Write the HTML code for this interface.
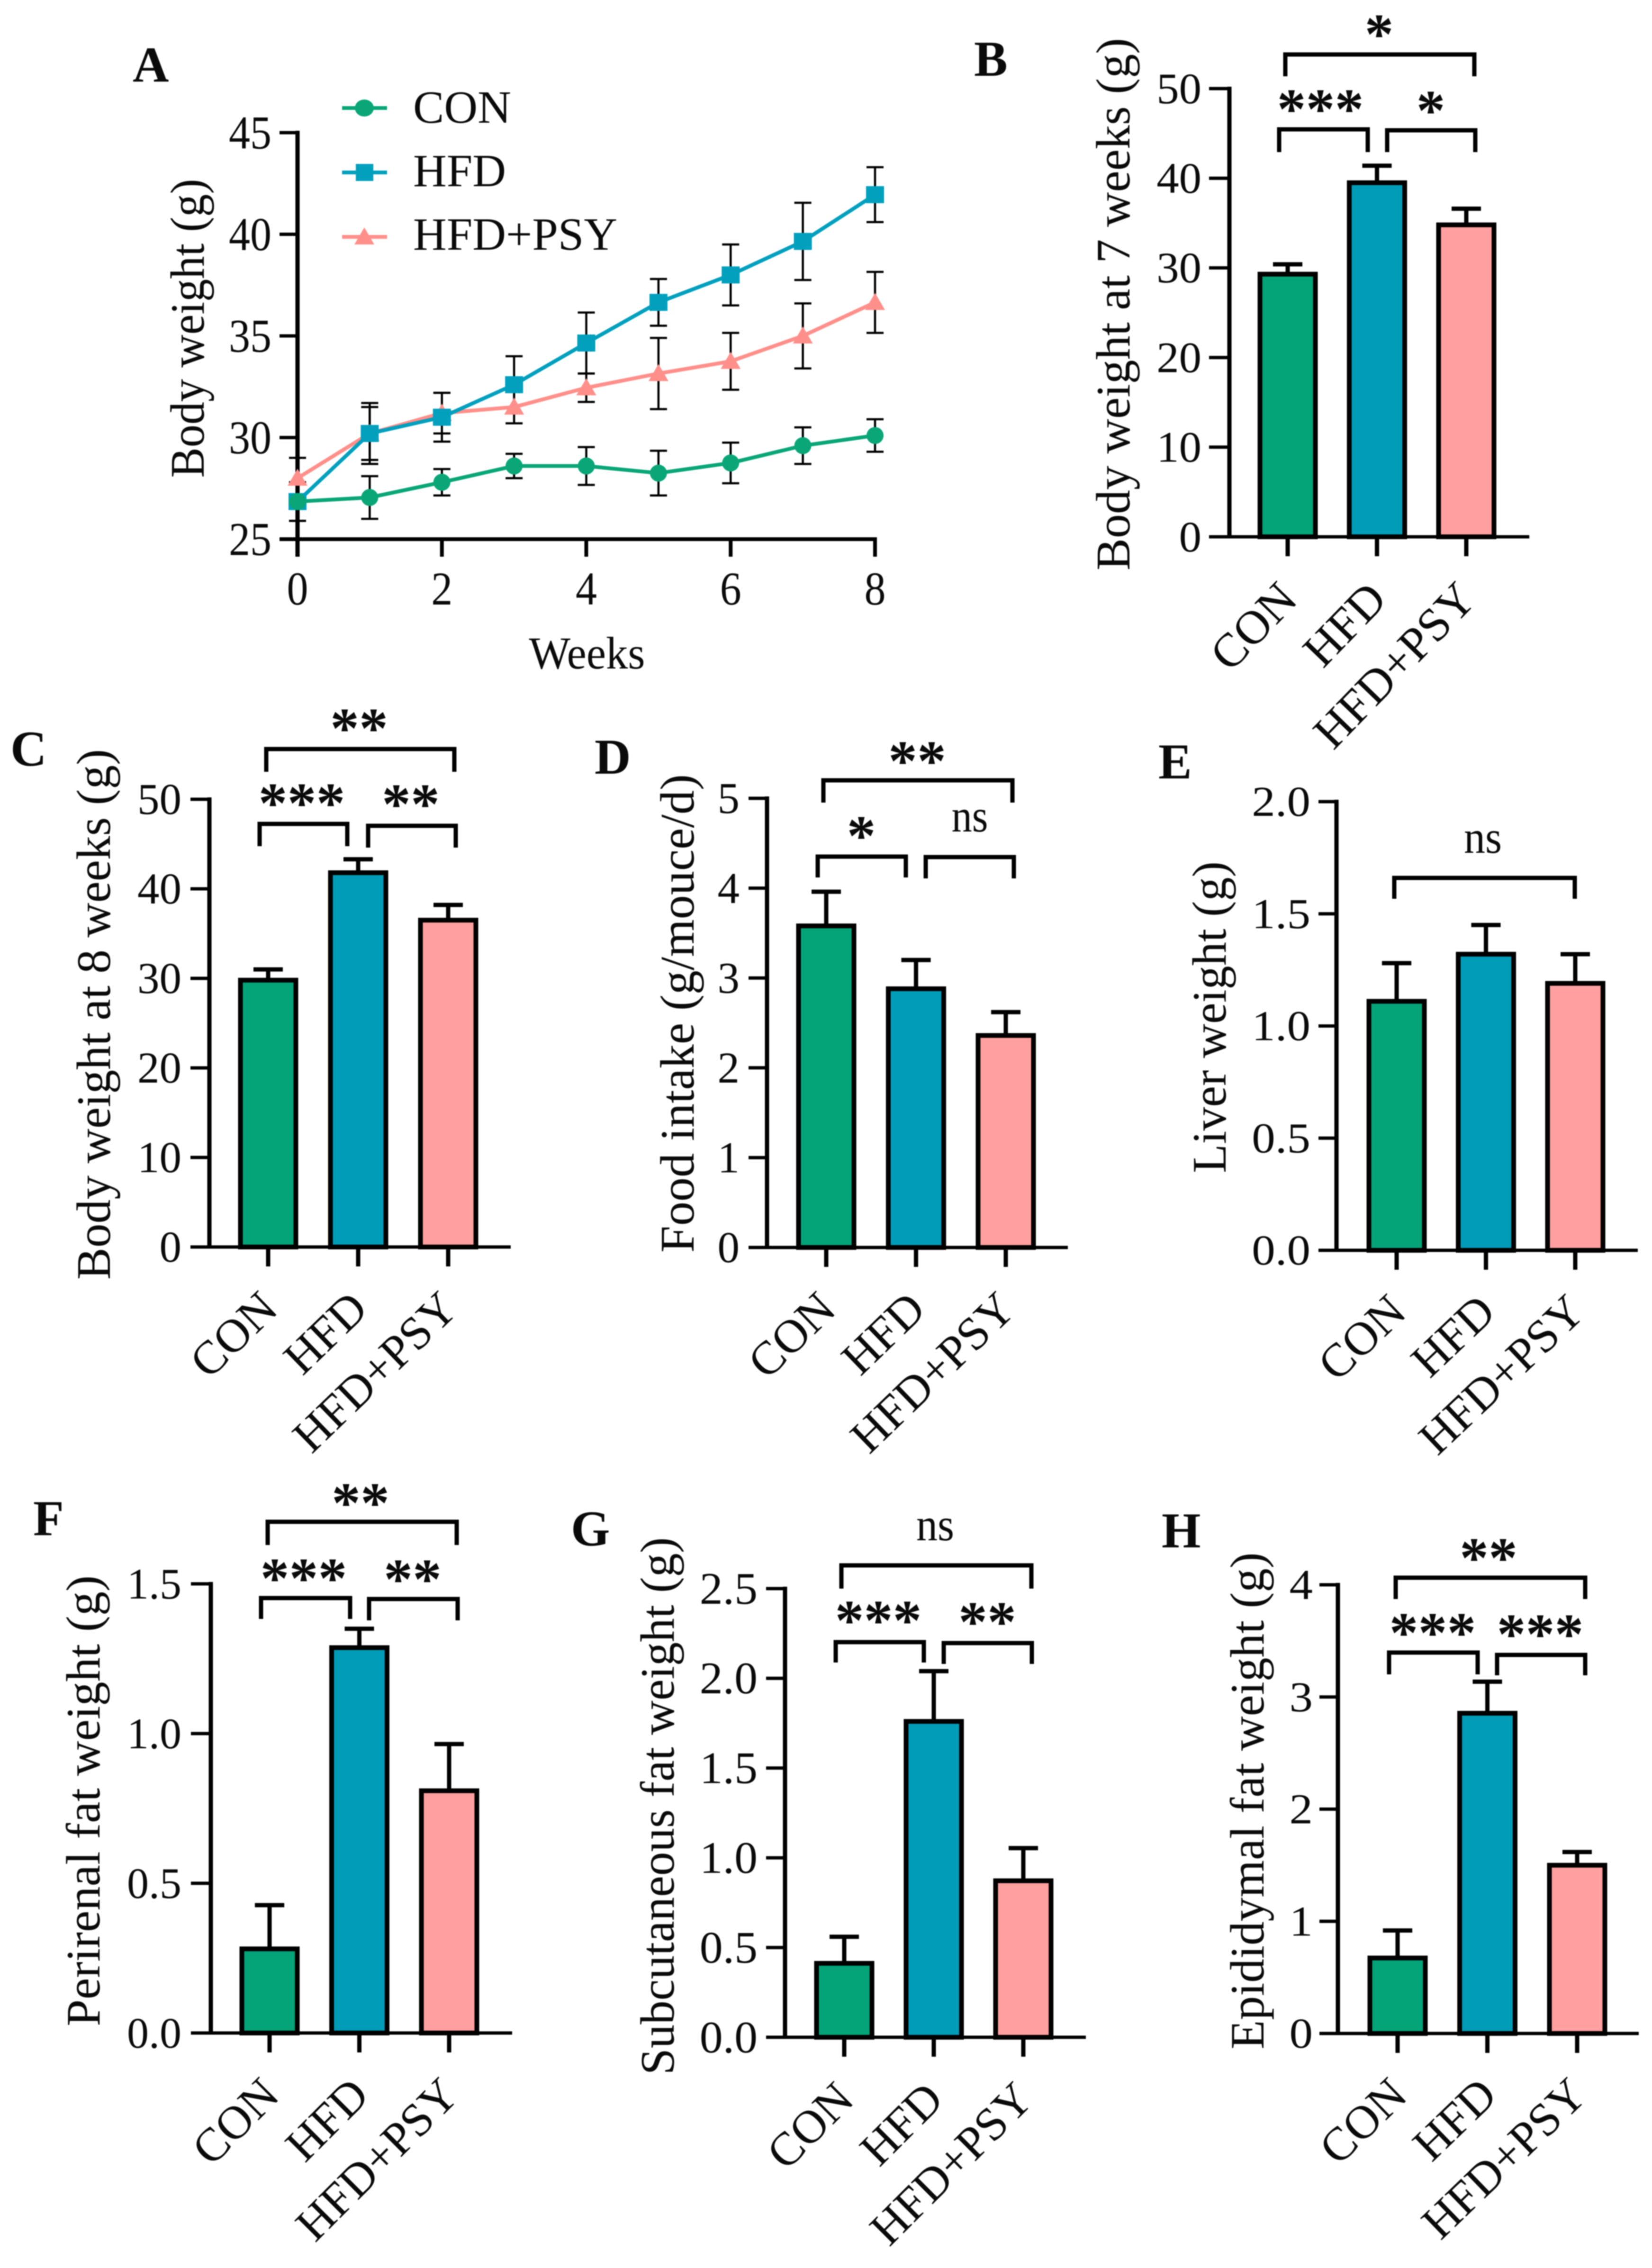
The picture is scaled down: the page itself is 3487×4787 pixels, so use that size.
<!DOCTYPE html>
<html lang="en">
<head>
<meta charset="utf-8">
<title>Body weight and fat weight panels</title>
<style>
html,body{margin:0;padding:0;background:#fff;}
svg{display:block;filter:blur(1px);}
text{font-family:"Liberation Serif","Times New Roman",serif;fill:#0a0a0a;}
.pl{font-weight:bold;font-size:106px;}
.yt{font-size:102px;}
.st{font-weight:bold;font-size:122px;text-anchor:middle;}
.ns{font-size:98px;text-anchor:middle;}
.br{fill:none;stroke:#000;stroke-width:9;}
.lg{font-size:98px;}
</style>
</head>
<body>
<svg id="figure" xmlns="http://www.w3.org/2000/svg" width="3487" height="4787" viewBox="0 0 3487 4787">
<rect x="0" y="0" width="3487" height="4787" fill="#fff"/>

<g id="panel-a">
<text class="pl" x="280" y="172">A</text>
<text class="yt" transform="translate(430,693) rotate(-90)" text-anchor="middle" textLength="631" lengthAdjust="spacingAndGlyphs">Body weight (g)</text>
<text x="1239" y="1411" font-size="96" text-anchor="middle" textLength="245" lengthAdjust="spacingAndGlyphs">Weeks</text>
<g>
<line x1="722" y1="228" x2="817" y2="228" stroke="#0aa678" stroke-width="8"/>
<ellipse cx="769" cy="228" rx="20" ry="18" fill="#0aa678"/>
<text class="lg" x="872" y="259">CON</text>
<line x1="722" y1="364" x2="817" y2="364" stroke="#03a0be" stroke-width="8"/>
<rect x="751" y="346" width="37" height="36" fill="#03a0be"/>
<text class="lg" x="872" y="393">HFD</text>
<line x1="722" y1="500" x2="817" y2="500" stroke="#ff8f8a" stroke-width="8"/>
<polygon points="769,480 790,516 748,516" fill="#ff8f8a"/>
<text class="lg" x="872" y="527">HFD+PSY</text>
</g>
</g>

<g id="panel-b">
<text class="pl" x="2056" y="160">B</text>
<text class="yt" transform="translate(2384,642) rotate(-90)" text-anchor="middle" textLength="1124" lengthAdjust="spacingAndGlyphs">Body weight at 7 weeks (g)</text>
<path class="br" d="M2713,161 V115 H3112 V161"/>
<path class="br" d="M2700,321 V273 H2887 V321"/>
<path class="br" d="M2928,321 V275 H3114 V321"/>
<text class="st" x="2911" y="113">*</text>
<text class="st" x="2787" y="271">***</text>
<text class="st" x="3020" y="274">*</text>
</g>

<g id="panel-c">
<text class="pl" x="22" y="1616">C</text>
<text class="yt" transform="translate(232,2141) rotate(-90)" text-anchor="middle" textLength="1120" lengthAdjust="spacingAndGlyphs">Body weight at 8 weeks (g)</text>
<path class="br" d="M562,1629 V1581 H959 V1629"/>
<path class="br" d="M548,1786 V1739 H733 V1786"/>
<path class="br" d="M777,1789 V1743 H962 V1789"/>
<text class="st" x="758" y="1578">**</text>
<text class="st" x="637" y="1736">***</text>
<text class="st" x="867" y="1738">**</text>
</g>

<g id="panel-d">
<text class="pl" x="1255" y="1633">D</text>
<text class="yt" transform="translate(1464,2139) rotate(-90)" text-anchor="middle" textLength="1010" lengthAdjust="spacingAndGlyphs">Food intake (g/mouce/d)</text>
<path class="br" d="M1738,1694 V1647 H2137 V1694"/>
<path class="br" d="M1726,1852 V1808 H1912 V1852"/>
<path class="br" d="M1954,1854 V1809 H2140 V1854"/>
<text class="st" x="1936" y="1647">**</text>
<text class="st" x="1818" y="1805">*</text>
<text class="ns" x="2047" y="1755" textLength="77" lengthAdjust="spacingAndGlyphs">ns</text>
</g>

<g id="panel-e">
<text class="pl" x="2445" y="1643">E</text>
<text class="yt" transform="translate(2587,2147) rotate(-90)" text-anchor="middle" textLength="658" lengthAdjust="spacingAndGlyphs">Liver weight (g)</text>
<path class="br" d="M2943,1897 V1853 H3324 V1897"/>
<text class="ns" x="3130" y="1800" textLength="80" lengthAdjust="spacingAndGlyphs">ns</text>
</g>

<g id="panel-f">
<text class="pl" x="70" y="3240">F</text>
<text class="yt" transform="translate(210,3801) rotate(-90)" text-anchor="middle" textLength="952" lengthAdjust="spacingAndGlyphs">Perirenal fat weight (g)</text>
<path class="br" d="M565,3261 V3212 H964 V3261"/>
<path class="br" d="M551,3417 V3373 H739 V3417"/>
<path class="br" d="M779,3420 V3375 H966 V3420"/>
<text class="st" x="761" y="3213">**</text>
<text class="st" x="641" y="3372">***</text>
<text class="st" x="871" y="3374">**</text>
</g>

<g id="panel-g">
<text class="pl" x="1205" y="3262">G</text>
<text class="yt" transform="translate(1422,3812) rotate(-90)" text-anchor="middle" textLength="1135" lengthAdjust="spacingAndGlyphs">Subcutaneous fat weight (g)</text>
<path class="br" d="M1776,3353 V3304 H2177 V3353"/>
<path class="br" d="M1764,3509 V3466 H1950 V3509"/>
<path class="br" d="M1992,3512 V3468 H2178 V3512"/>
<text class="ns" x="1974" y="3251" textLength="80" lengthAdjust="spacingAndGlyphs">ns</text>
<text class="st" x="1854" y="3461">***</text>
<text class="st" x="2084" y="3464">**</text>
</g>

<g id="panel-h">
<text class="pl" x="2452" y="3266">H</text>
<text class="yt" transform="translate(2667,3801) rotate(-90)" text-anchor="middle" textLength="1049" lengthAdjust="spacingAndGlyphs">Epididymal fat weight (g)</text>
<path class="br" d="M2946,3375 V3330 H3346 V3375"/>
<path class="br" d="M2932,3534 V3488 H3119 V3534"/>
<path class="br" d="M3160,3536 V3493 H3346 V3536"/>
<text class="st" x="3142" y="3329">**</text>
<text class="st" x="3024" y="3487">***</text>
<text class="st" x="3251" y="3490">***</text>
</g>
</svg>

<script>
// ---- shared categories ----
const categories = ['CON', 'HFD', 'HFD+PSY'];

// ---- panel A data ----
const weeks = [0, 1, 2, 3, 4, 5, 6, 7, 8];
const weekTickLabels = ['0', '2', '4', '6', '8'];
const weightTickLabels = ['25', '30', '35', '40', '45'];
const conWeight = [26.85, 27.05, 27.8, 28.6, 28.6, 28.25, 28.75, 29.6, 30.1];
const conWeightError = [0.95, 1.05, 0.65, 0.6, 0.93, 1.1, 1.0, 0.9, 0.8];
const hfdWeight = [26.85, 30.2, 31.0, 32.6, 34.65, 36.65, 38.0, 39.65, 41.95];
const hfdWeightError = [0.95, 1.3, 1.2, 1.4, 1.5, 1.15, 1.5, 1.9, 1.35];
const psyWeight = [28.0, 30.2, 31.2, 31.5, 32.45, 33.15, 33.75, 35.0, 36.65];
const psyWeightError = [1.0, 1.5, 1.0, 0.8, 0.7, 1.75, 1.4, 1.6, 1.5];

// ---- bar panel data ----
const bValues = [29.3, 39.5, 34.8];
const bErrors = [1.1, 1.9, 1.8];
const bTickLabels = ['0', '10', '20', '30', '40', '50'];
const cValues = [29.8, 41.8, 36.5];
const cErrors = [1.2, 1.5, 1.7];
const cTickLabels = ['0', '10', '20', '30', '40', '50'];
const dValues = [3.58, 2.88, 2.36];
const dErrors = [0.38, 0.32, 0.26];
const dTickLabels = ['0', '1', '2', '3', '4', '5'];
const eValues = [1.11, 1.32, 1.19];
const eErrors = [0.17, 0.13, 0.13];
const eTickLabels = ['0.0', '0.5', '1.0', '1.5', '2.0'];
const fValues = [0.281, 1.287, 0.809];
const fErrors = [0.146, 0.063, 0.156];
const fTickLabels = ['0.0', '0.5', '1.0', '1.5'];
const gValues = [0.412, 1.76, 0.872];
const gErrors = [0.148, 0.28, 0.182];
const gTickLabels = ['0.0', '0.5', '1.0', '1.5', '2.0', '2.5'];
const hValues = [0.673, 2.855, 1.5];
const hErrors = [0.245, 0.281, 0.118];
const hTickLabels = ['0', '1', '2', '3', '4'];

const SVGNS = 'http://www.w3.org/2000/svg';
function make(tag, parent, attrs) {
  const node = document.createElementNS(SVGNS, tag);
  for (const k in attrs) node.setAttribute(k, attrs[k]);
  parent.appendChild(node);
  return node;
}
function linearScale(d0, d1, r0, r1) {
  return function (v) { return r0 + (v - d0) * (r1 - r0) / (d1 - d0); };
}

const barColors = ['#04a378', '#019cb8', '#ff9f9f'];

function drawYAxis(g, key, labels, y, L) {
  const axis = make('line', g, { x1: L.axisX, y1: y(parseFloat(labels[labels.length - 1])) - 4, x2: L.axisX, y2: L.axisBottom, stroke: '#000', 'stroke-width': 9 });
  
  
  labels.forEach(function (label) {
    const v = parseFloat(label);
    const tick = make('line', g, { x1: L.tickLeft, y1: y(v), x2: L.axisX, y2: y(v), stroke: '#000', 'stroke-width': 7 });
    
    
    const t = make('text', g, { 'font-size': L.tickSize, 'text-anchor': 'end', transform: 'translate(' + L.labelRight + ',' + (y(v) + L.tickSize * 0.335) + ') scale(' + L.tickStretch + ',1)' });
    t.textContent = label;
    
    
  });
}

function drawBarPanel(key, values, errors, tickLabels, L) {
  const g = document.getElementById('panel-' + key);
  const ticks = tickLabels.map(parseFloat);
  const y = linearScale(ticks[0], ticks[ticks.length - 1], L.bottom, L.top);
  const x = function (i) { return L.firstX + i * L.stepX; };
  categories.forEach(function (name, i) {
    const slug = name.toLowerCase().replace('+', '-');
    const stem = make('line', g, { x1: x(i), y1: y(values[i]), x2: x(i), y2: y(values[i] + errors[i]), stroke: '#000', 'stroke-width': 9 });
    
    
    const cap = make('line', g, { x1: x(i) - 31, y1: y(values[i] + errors[i]), x2: x(i) + 31, y2: y(values[i] + errors[i]), stroke: '#000', 'stroke-width': 9 });
    
    
    const bar = make('rect', g, { x: x(i) - 58.5, y: y(values[i]), width: 117, height: L.bottom - y(values[i]), fill: barColors[i], stroke: '#000', 'stroke-width': 10 });
    
    
    const tick = make('line', g, { x1: x(i), y1: L.bottom, x2: x(i), y2: L.bottom + 41, stroke: '#000', 'stroke-width': 9 });
    
    
    const lab = make('text', g, { 'font-size': L.labelSize, 'text-anchor': 'end', transform: 'translate(' + (x(i) + 25) + ',' + (L.bottom + 136) + ') rotate(' + (-L.angle) + ')' });
    lab.textContent = name;
    
    
  });
  const base = make('line', g, { x1: L.tickLeft, y1: L.bottom, x2: L.axisRight, y2: L.bottom, stroke: '#000', 'stroke-width': 7 });
  
  
  drawYAxis(g, key, tickLabels, y, { axisX: L.axisX, axisBottom: L.bottom, tickLeft: L.tickLeft, labelRight: L.labelRight, tickSize: L.tickSize, tickStretch: L.tickStretch });
}

drawBarPanel('b', bValues, bErrors, bTickLabels, { top: 187, bottom: 1133, axisX: 2595, tickLeft: 2552, axisRight: 3228, firstX: 2718, stepX: 188.5, labelRight: 2536, tickSize: 92, tickStretch: 1.03, angle: 46, labelSize: 100 });
drawBarPanel('c', cValues, cErrors, cTickLabels, { top: 1687, bottom: 2632, axisX: 442, tickLeft: 402, axisRight: 1078, firstX: 566, stepX: 190, labelRight: 383, tickSize: 93, tickStretch: 1, angle: 44, labelSize: 99 });
drawBarPanel('d', dValues, dErrors, dTickLabels, { top: 1685, bottom: 2633, axisX: 1619, tickLeft: 1580, axisRight: 2254, firstX: 1744, stepX: 189.5, labelRight: 1561, tickSize: 93, tickStretch: 1, angle: 44, labelSize: 99 });
drawBarPanel('e', eValues, eErrors, eTickLabels, { top: 1692, bottom: 2639, axisX: 2821, tickLeft: 2783, axisRight: 3457, firstX: 2948, stepX: 188.5, labelRight: 2766, tickSize: 90, tickStretch: 1.1, angle: 43.5, labelSize: 99 });
drawBarPanel('f', fValues, fErrors, fTickLabels, { top: 3343, bottom: 4291, axisX: 445, tickLeft: 403, axisRight: 1081, firstX: 569, stepX: 189.5, labelRight: 383, tickSize: 92, tickStretch: 1, angle: 45, labelSize: 99 });
drawBarPanel('g', gValues, gErrors, gTickLabels, { top: 3353, bottom: 4300, axisX: 1657, tickLeft: 1617, axisRight: 2292, firstX: 1782, stepX: 189, labelRight: 1599, tickSize: 95, tickStretch: 1.03, angle: 45, labelSize: 99 });
drawBarPanel('h', hValues, hErrors, hTickLabels, { top: 3345, bottom: 4292, axisX: 2824, tickLeft: 2785, axisRight: 3459, firstX: 2950, stepX: 189.5, labelRight: 2771, tickSize: 90, tickStretch: 1.1, angle: 44, labelSize: 99 });

// ---- panel A line chart ----
(function () {
  const g = document.getElementById('panel-a');
  const top = 280, bottom = 1138, left = 628, right = 1847;
  const y = linearScale(parseFloat(weightTickLabels[0]), parseFloat(weightTickLabels[weightTickLabels.length - 1]), bottom, top);
  const x = linearScale(weeks[0], weeks[weeks.length - 1], left, right);

  const seriesList = [
    { slug: 'hfd-psy', values: psyWeight, errors: psyWeightError, color: '#ff8f8a', shape: 'triangle' },
    { slug: 'hfd', values: hfdWeight, errors: hfdWeightError, color: '#03a0be', shape: 'square' },
    { slug: 'con', values: conWeight, errors: conWeightError, color: '#0aa678', shape: 'circle' }
  ];

  seriesList.forEach(function (s) {
    s.values.forEach(function (v, i) {
      const path = 'M' + (x(weeks[i]) - 18) + ',' + y(v + s.errors[i]) + 'H' + (x(weeks[i]) + 18) +
        'M' + x(weeks[i]) + ',' + y(v + s.errors[i]) + 'V' + y(v - s.errors[i]) +
        'M' + (x(weeks[i]) - 18) + ',' + y(v - s.errors[i]) + 'H' + (x(weeks[i]) + 18);
      const err = make('path', g, { d: path, fill: 'none', stroke: '#000', 'stroke-width': 4.5 });
      
      
    });
  });

  const xAxis = make('line', g, { x1: 590, y1: bottom, x2: right + 4, y2: bottom, stroke: '#000', 'stroke-width': 8 });
  
  
  drawYAxis(g, 'a', weightTickLabels, y, { axisX: left, axisBottom: bottom + 37, tickLeft: 590, labelRight: 573, tickSize: 100, tickStretch: 0.9 });

  weekTickLabels.forEach(function (label) {
    const w = parseFloat(label);
    const tick = make('line', g, { x1: x(w), y1: bottom, x2: x(w), y2: bottom + 37, stroke: '#000', 'stroke-width': 8 });
    
    
    const t = make('text', g, { 'font-size': 100, 'text-anchor': 'middle', transform: 'translate(' + x(w) + ',1276) scale(0.9,1)' });
    t.textContent = label;
    
    
  });

  seriesList.forEach(function (s) {
    const pts = s.values.map(function (v, i) { return x(weeks[i]) + ',' + y(v); }).join(' ');
    const line = make('polyline', g, { points: pts, fill: 'none', stroke: s.color, 'stroke-width': 8, 'stroke-linejoin': 'round' });
    
    
    s.values.forEach(function (v, i) {
      const cx = x(weeks[i]), cy = y(v);
      let m;
      if (s.shape === 'circle') {
        m = make('ellipse', g, { cx: cx, cy: cy, rx: 18, ry: 18, fill: s.color });
      } else if (s.shape === 'square') {
        m = make('rect', g, { x: cx - 19, y: cy - 18, width: 38, height: 36, fill: s.color });
      } else {
        m = make('polygon', g, { points: cx + ',' + (cy - 20) + ' ' + (cx + 21) + ',' + (cy + 16) + ' ' + (cx - 21) + ',' + (cy + 16), fill: s.color });
      }
      
      
    });
  });
})();
</script>
</body>
</html>
